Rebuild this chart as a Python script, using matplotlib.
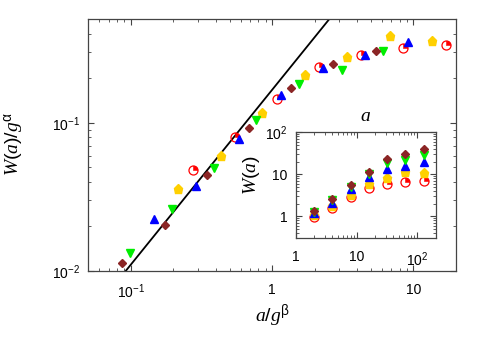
#!/usr/bin/env python3
"""Scaling collapse W(a)/g^alpha vs a/g^beta, with raw W(a) inset."""
import matplotlib
matplotlib.use("Agg")
import matplotlib.pyplot as plt
from matplotlib.ticker import FixedLocator, FixedFormatter, LogLocator, NullFormatter
import numpy as np

plt.rcParams["mathtext.fontset"] = "custom"
plt.rcParams["mathtext.rm"] = "Liberation Sans"
plt.rcParams["mathtext.it"] = "Liberation Serif:italic"
plt.rcParams["mathtext.bf"] = "Liberation Sans:bold"
plt.rcParams["font.family"] = ["Liberation Sans", "DejaVu Sans"]

# ---- main panel data ----
red_x = [0.275, 0.543, 1.079, 2.15, 4.28, 8.51, 17.0]
red_y = [0.0484, 0.0805, 0.1456, 0.239, 0.289, 0.32, 0.333]
gold_x = [0.215, 0.435, 0.855, 1.71, 3.39, 6.78, 13.45]
gold_y = [0.0355, 0.0594, 0.116, 0.21, 0.279, 0.388, 0.355]
blue_x = [0.146, 0.290, 0.586, 1.157, 2.30, 4.57, 9.12]
blue_y = [0.0226, 0.0372, 0.0778, 0.154, 0.233, 0.286, 0.35]
green_x = [0.0984, 0.197, 0.391, 0.771, 1.54, 3.10, 6.08]
green_y = [0.0133, 0.0261, 0.0493, 0.1043, 0.184, 0.228, 0.304]
brown_x = [0.0865, 0.174, 0.347, 0.685, 1.355, 2.70, 5.40]
brown_y = [0.0113, 0.0206, 0.0446, 0.092, 0.1725, 0.25, 0.307]

# power-law guide line y = A x^s
line_A = 0.167
line_s = 1.18

# ---- inset data ----
a_vals = [2, 4, 8, 16, 32, 64, 128]
W_red = [0.95, 1.58, 2.86, 4.77, 6.0, 6.6, 6.9]
W_gold = [1.05, 1.74, 3.24, 5.85, 8.3, 11.6, 10.6]
W_blue = [1.2, 2.13, 4.36, 8.5, 13.2, 16.0, 20.0]
W_green = [1.25, 2.4, 4.97, 10.0, 18.4, 22.4, 29.5]
W_brown = [1.32, 2.56, 5.45, 11.6, 22.9, 31.2, 39.0]

main_xticks = [0.1, 1, 10]
main_xlabels = [r"$\mathrm{10^{-1}}$", "1", "10"]
main_yticks = [0.01, 0.1]
main_ylabels = [r"$\mathrm{10^{-2}}$", r"$\mathrm{10^{-1}}$"]
inset_ticks = [1, 10, 100]
inset_labels = ["1", "10", r"$\mathrm{10^{2}}$"]

RED = "#ff0000"
GOLD = "#ffd000"
BLUE = "#0000ff"
GREEN = "#00ee00"
BROWN = "#8b2525"
AXCOL = "#444444"

# quarter-disc marker (upper right), same scale as the unit circle
_th = np.linspace(0, np.pi / 2, 20)
QUARTER = [(0.0, 0.0)] + [(np.cos(t), np.sin(t)) for t in _th] + [(0.0, 0.0)]


def red_points(ax, x, y, ms):
    ax.plot(x, y, "o", ls="none", mfc="none", mec=RED, mew=0.9, ms=ms)
    ax.plot(x, y, marker=QUARTER, ls="none", color=RED, mfc=RED, mec=RED,
            mew=0.4, ms=ms - 0.3)


def style_axes(ax, xticks, xlabels, yticks, ylabels, xpad, ypad):
    ax.set_xscale("log")
    ax.set_yscale("log")
    ax.xaxis.set_major_locator(FixedLocator(xticks))
    ax.xaxis.set_major_formatter(FixedFormatter(xlabels))
    ax.yaxis.set_major_locator(FixedLocator(yticks))
    ax.yaxis.set_major_formatter(FixedFormatter(ylabels))
    ax.xaxis.set_minor_locator(LogLocator(base=10, subs=np.arange(2, 10)))
    ax.yaxis.set_minor_locator(LogLocator(base=10, subs=np.arange(2, 10)))
    ax.xaxis.set_minor_formatter(NullFormatter())
    ax.yaxis.set_minor_formatter(NullFormatter())
    ax.tick_params(which="both", direction="in", top=True, right=True,
                   color=AXCOL, labelsize=10)
    ax.tick_params(which="major", length=4.5, width=0.8)
    ax.tick_params(which="minor", length=2.5, width=0.6)
    ax.tick_params(axis="x", which="major", pad=xpad)
    ax.tick_params(axis="y", which="major", pad=ypad)
    for sp in ax.spines.values():
        sp.set_color(AXCOL)
        sp.set_linewidth(0.9)


def draw_series(ax, xs, ys):
    (rx, gx, bx, grx, brx), (ry, gy, by, gry, bry) = xs, ys
    red_points(ax, rx, ry, 6.5)
    ax.plot(gx, gy, "p", ls="none", color=GOLD, ms=6.8)
    ax.plot(bx, by, "^", ls="none", color=BLUE, ms=6.0)
    ax.plot(grx, gry, "v", ls="none", color=GREEN, ms=6.0)
    ax.plot(brx, bry, "D", ls="none", color=BROWN, ms=4.3)


fig = plt.figure(figsize=(4.85, 3.39), dpi=100)
ax = fig.add_axes([0.182, 0.2006, 0.758, 0.7424])

xl = np.array([0.05, 20.0])
ax.plot(xl, line_A * xl ** line_s, color="black", lw=1.3, zorder=1)

draw_series(ax, (red_x, gold_x, blue_x, green_x, brown_x),
            (red_y, gold_y, blue_y, green_y, brown_y))

ax.set_xlim(0.05, 20)
ax.set_ylim(0.01, 0.5)
style_axes(ax, main_xticks, main_xlabels, main_yticks, main_ylabels, 8.5, 6)
ax.set_xlabel(r"$\mathit{a/g}^{\mathrm{\beta}}$", fontsize=14)
ax.set_ylabel(r"$\mathit{W(a)/g}^{\mathrm{\alpha}}$", fontsize=14)
ax.xaxis.set_label_coords(0.5, -0.125)
ax.yaxis.set_label_coords(-0.17, 0.505)

# inset
axi = fig.add_axes([0.610, 0.297, 0.288, 0.3127])
draw_series(axi, (a_vals,) * 5, (W_red, W_gold, W_blue, W_green, W_brown))
axi.set_xlim(1, 200)
axi.set_ylim(0.3, 100)
style_axes(axi, inset_ticks, inset_labels, inset_ticks, inset_labels, 8.5, 6)
axi.xaxis.set_label_position("top")
axi.set_xlabel(r"$\mathit{a}$", fontsize=14, labelpad=8)
axi.set_ylabel(r"$\mathit{W(a)}$", fontsize=14)
axi.yaxis.set_label_coords(-0.24, 0.6)

fig.savefig("out.png", dpi=100)
